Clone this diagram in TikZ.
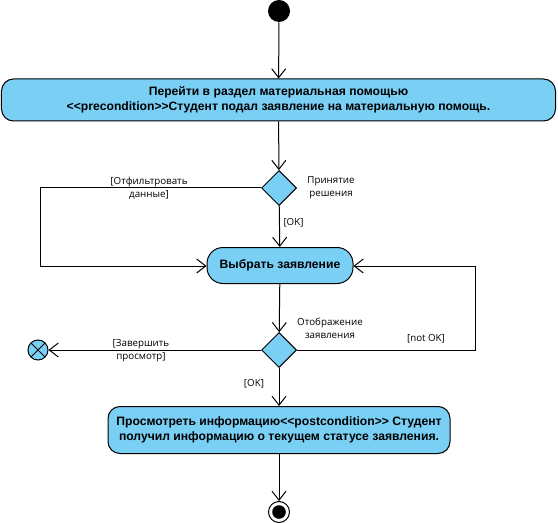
\documentclass[tikz,border=0pt]{standalone}
\usepackage{fontspec}
\setmainfont{Liberation Sans}
\newfontfamily\labelfont{Open Sans}
\usetikzlibrary{arrows.meta,shapes.geometric}
\definecolor{actfill}{RGB}{122,207,245}
\newcommand{\lguil}{<\kern0pt<}
\newcommand{\rguil}{>\kern0pt>}
\begin{document}
\begin{tikzpicture}[x=1bp,y=-1bp,
  line width=1bp,
  flow/.style={-{Straight Barb[length=9bp,width=14bp,line width=1bp]}},
  action/.style={draw,fill=actfill,rectangle,align=center,font=\fontsize{12.2}{15}\selectfont\bfseries,inner sep=0pt},
  decision/.style={draw,fill=actfill,diamond,minimum width=35bp,minimum height=35bp,inner sep=0pt},
  guard/.style={font=\labelfont\fontsize{9.8}{13}\selectfont,align=center,inner sep=0pt}]
\useasboundingbox (0,0) rectangle (558,523);

% initial and final nodes
\node[circle,fill=black,minimum size=22bp,inner sep=0pt] (start) at (279,11) {};
\node[circle,draw,fill=white,minimum size=21bp,inner sep=0pt] (final) at (279,512) {};
\fill[black] (final.center) circle (6.8bp);

% actions
\node[action,rounded corners=12bp,minimum width=554bp,minimum height=42bp] (pre) at (278.5,100)
  {Перейти в раздел материальная помощью\\ \lguil precondition\rguil Студент подал заявление на материальную помощь.};
\node[action,rounded corners=16bp,minimum width=146bp,minimum height=36bp] (pick) at (280,265.5)
  {Выбрать заявление};
\node[action,rounded corners=12bp,minimum width=342bp,minimum height=47bp] (view) at (279,430)
  {Просмотреть информацию\lguil postcondition\rguil{} Студент\\ получил информацию о текущем статусе заявления.};

% decisions
\node[decision] (d1) at (279,188) {};
\node[decision] (d2) at (279,350) {};

% flow final
\node[circle,draw,fill=actfill,minimum size=20bp,inner sep=0pt,
  path picture={\draw ([shift={(-7bp,-7bp)}]path picture bounding box.center) -- ++(14bp,14bp)
                      ([shift={(-7bp,7bp)}]path picture bounding box.center) -- ++(14bp,-14bp);}] (stop) at (38,350) {};

% routing points
\coordinate (lt) at (40,188);
\coordinate (lb) at (40,266);
\coordinate (rb) at (475,350);
\coordinate (rt) at (475,266);

% connectors
\draw[flow] (start) -- (pre);
\draw[flow] (pre) -- (d1);
\draw[flow] (d1) -- (pick);
\draw[flow] (d1.west) -- (lt) -- (lb) -- (pick.west |- lb);
\draw[flow] (pick) -- (d2);
\draw[flow] (d2.west) -- (stop);
\draw[flow] (d2.east) -- (rb) -- (rt) -- (pick.east |- rt);
\draw[flow] (d2) -- (view);
\draw[flow] (view) -- (final);

% labels
\node[guard] at (149,188.5) {[Отфильтровать\\данные]};
\node[guard] at (331,187.5) {Принятие\\решения};
\node[guard,anchor=west] at (283,223) {[OK]};
\node[guard] at (330,328.5) {Отображение\\заявления};
\node[guard] at (426,339) {[not OK]};
\node[guard] at (141,350.5) {[Завершить\\просмотр]};
\node[guard] at (254,384) {[OK]};
\end{tikzpicture}
\end{document}
